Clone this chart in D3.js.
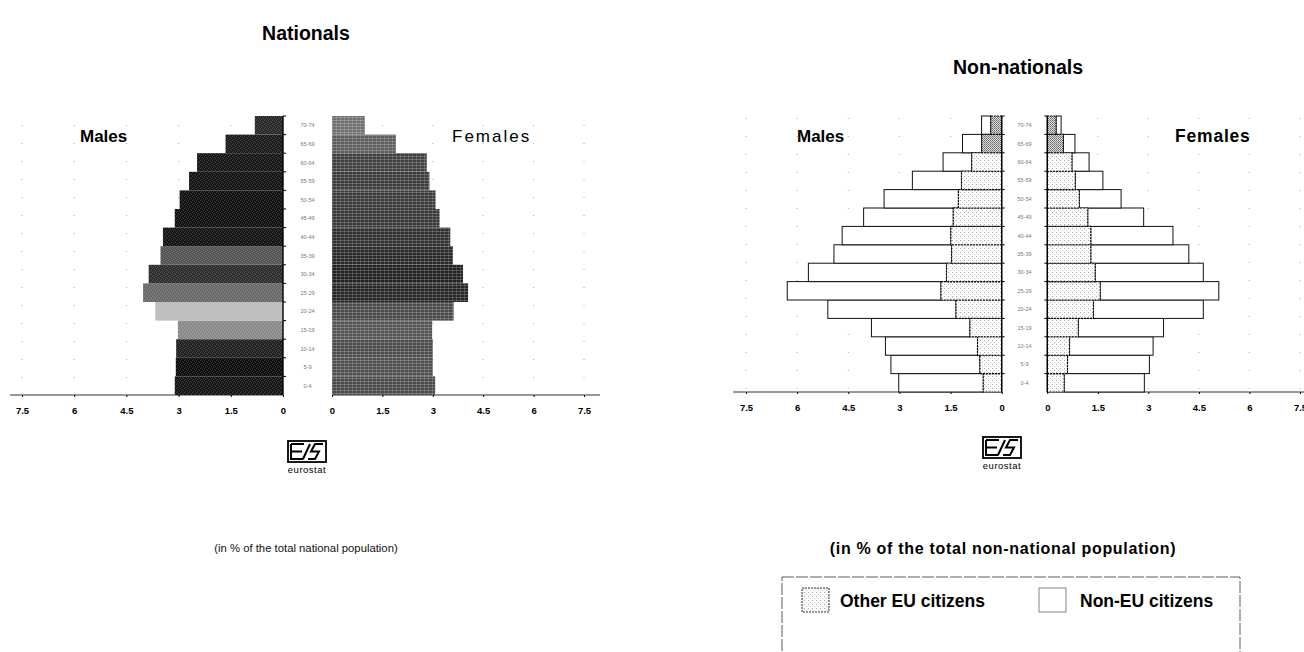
<!DOCTYPE html>
<html><head><meta charset="utf-8">
<script src="https://cdn.jsdelivr.net/npm/d3@7"></script>
<style>
html,body{margin:0;padding:0;background:#fff;}
svg{display:block;font-family:"Liberation Sans",Arial,sans-serif;}
</style></head>
<body>
<svg id="c" width="1304" height="652"></svg>
<script>
// ---------- data (age groups bottom -> top) ----------
const ages = ["0-4","5-9","10-14","15-19","20-24","25-29","30-34","35-39","40-44","45-49","50-54","55-59","60-64","65-69","70-74"];
const tickValues = [0, 1.5, 3, 4.5, 6, 7.5];
const tickLabels = ["0", "1.5", "3", "4.5", "6", "7.5"];
// Nationals (% of total national population)
const natMales   = [3.11, 3.08, 3.07, 3.02, 3.67, 4.02, 3.86, 3.52, 3.45, 3.11, 2.97, 2.70, 2.47, 1.65, 0.81];
const natFemales = [3.07, 3.00, 3.00, 2.98, 3.62, 4.05, 3.90, 3.60, 3.52, 3.20, 3.08, 2.90, 2.82, 1.90, 0.98];
// Non-nationals (% of total non-national population)
const nnMalesEU      = [0.54, 0.64, 0.71, 0.93, 1.34, 1.78, 1.62, 1.47, 1.49, 1.42, 1.27, 1.18, 0.88, 0.59, 0.32];
const nnMalesNonEU   = [2.48, 2.61, 2.70, 2.89, 3.76, 4.51, 4.05, 3.45, 3.19, 2.63, 2.18, 1.44, 0.84, 0.56, 0.27];
const nnFemalesEU    = [0.50, 0.60, 0.66, 0.92, 1.37, 1.57, 1.42, 1.29, 1.29, 1.20, 0.95, 0.83, 0.73, 0.48, 0.26];
const nnFemalesNonEU = [2.38, 2.43, 2.48, 2.53, 3.26, 3.52, 3.21, 2.91, 2.44, 1.66, 1.24, 0.82, 0.51, 0.34, 0.15];
const legendLabels = ["Other EU citizens", "Non-EU citizens"];

// ---------- styles (separate from data) ----------
const natMaleShade   = ["#161616","#0e0e0e","#222","#8a8a8a","#bcbcbc","#6a6a6a","#2e2e2e","#555","#151515","#121212","#121212","#151515","#181818","#1c1c1c","#2a2a2a"];
const natFemaleShade = ["#4a4a4a","#505050","#4c4c4c","#555","#4a4a4a","#262626","#222","#2a2a2a","#303030","#383838","#3c3c3c","#3c3c3c","#404040","#5e5e5e","#707070"];

const svg = d3.select("#c");
const defs = svg.append("defs");
const st = defs.append("pattern").attr("id","stip").attr("width",4).attr("height",4).attr("patternUnits","userSpaceOnUse");
[[0,0],[2,1],[1,3],[3,2]].forEach(p=>st.append("rect").attr("x",p[0]).attr("y",p[1]).attr("width",1).attr("height",1).attr("fill","#fff").attr("opacity",0.18));
const gp = defs.append("pattern").attr("id","grid").attr("width",4).attr("height",3).attr("patternUnits","userSpaceOnUse");
gp.append("rect").attr("x",0).attr("y",0).attr("width",4).attr("height",1).attr("fill","#fff").attr("opacity",0.22);
gp.append("rect").attr("x",0).attr("y",0).attr("width",1).attr("height",3).attr("fill","#fff").attr("opacity",0.16);
const eu = defs.append("pattern").attr("id","eu").attr("width",4).attr("height",4).attr("patternUnits","userSpaceOnUse");
eu.append("rect").attr("width",4).attr("height",4).attr("fill","#fbfbfb");
eu.append("rect").attr("x",0).attr("y",0).attr("width",1).attr("height",1).attr("fill","#aaa");
eu.append("rect").attr("x",2).attr("y",2).attr("width",1).attr("height",1).attr("fill","#ccc");
const eud = defs.append("pattern").attr("id","eudark").attr("width",2).attr("height",2).attr("patternUnits","userSpaceOnUse");
eud.append("rect").attr("width",2).attr("height",2).attr("fill","#ddd");
eud.append("rect").attr("x",0).attr("y",0).attr("width",1).attr("height",1).attr("fill","#666");
eud.append("rect").attr("x",1).attr("y",1).attr("width",1).attr("height",1).attr("fill","#888");

// ---------- helpers ----------
function drawAxis(x, y0, ext) {
  svg.append("g").selectAll("line").data(tickValues.filter(d=>d>0)).join("line")
    .attr("x1",d=>x(d)).attr("x2",d=>x(d)).attr("y1",ext.top).attr("y2",y0)
    .attr("stroke","#888").attr("stroke-width",1).attr("stroke-dasharray","1,17").attr("opacity",0.7);
  svg.append("line").attr("x1",ext.from).attr("x2",ext.to).attr("y1",y0).attr("y2",y0)
    .attr("stroke","#333").attr("stroke-width",1.2);
  const ax = d3.axisBottom(x).tickValues(tickValues).tickSize(2).tickPadding(10)
    .tickFormat((d,i)=>tickLabels[i]);
  const g = svg.append("g").attr("transform",`translate(0,${y0})`).call(ax);
  g.select(".domain").remove();
  g.selectAll(".tick line").attr("stroke","#000");
  g.selectAll(".tick text").attr("font-size",9.5).attr("font-weight","bold").attr("fill","#000")
    .attr("font-family","'Liberation Sans',Arial,sans-serif");
}
function centerLine(x0, y, side) {
  const yr = y.range();
  svg.append("line").attr("x1",x0).attr("x2",x0).attr("y1",yr[0]).attr("y2",yr[1]).attr("stroke","#000").attr("stroke-width",1.4);
  svg.append("g").selectAll("line").data(ages).join("line")
    .attr("x1",x0).attr("x2",x0+side*3).attr("y1",d=>y(d)).attr("y2",d=>y(d)).attr("stroke","#000").attr("stroke-width",1);
}
function ageLabels(cx, y) {
  svg.append("g").selectAll("text").data(ages).join("text")
    .attr("x",cx).attr("y",d=>y(d)+y.bandwidth()/2+2).attr("text-anchor","middle")
    .attr("font-size",5.5).attr("fill","#777").text(d=>d);
}
function logo(cx, top) {
  const g = svg.append("g").attr("transform",`translate(${cx-19},${top})`);
  g.append("rect").attr("x",0).attr("y",0).attr("width",38).attr("height",21).attr("fill","#fff").attr("stroke","#000").attr("stroke-width",1.8);
  const p = d3.path();
  p.moveTo(3,3); p.lineTo(16,3); p.moveTo(3,3); p.lineTo(3,18); p.lineTo(15,18);
  p.moveTo(3,10.5); p.lineTo(14,10.5);
  p.moveTo(15,18); p.lineTo(22,3);
  p.moveTo(35,3); p.lineTo(27,3); p.lineTo(23,10.5); p.lineTo(31,10.5); p.lineTo(27,18); p.lineTo(20,18);
  g.append("path").attr("d",p.toString()).attr("fill","none").attr("stroke","#000").attr("stroke-width",2);
  svg.append("text").attr("x",cx).attr("y",top+32).attr("text-anchor","middle").attr("font-size",9.5).attr("letter-spacing",0.5).text("eurostat");
}

// ---------- NATIONALS ----------
const natY = d3.scaleBand().domain(ages.slice().reverse()).range([116,395]).padding(0);
const natMX = d3.scaleLinear().domain([0,7.5]).range([283,22]);
const natFX = d3.scaleLinear().domain([0,7.5]).range([332,584]);
drawAxis(natMX, 395, {from:10,to:283,top:125});
drawAxis(natFX, 395, {from:332,to:600,top:125});
const natMg = svg.append("g");
natMg.selectAll("rect.b").data(natMales).join("rect").attr("class","b")
  .attr("x",d=>natMX(d)).attr("width",d=>natMX(0)-natMX(d))
  .attr("y",(d,i)=>natY(ages[i])).attr("height",natY.bandwidth())
  .attr("fill",(d,i)=>natMaleShade[i]);
natMg.selectAll("rect.o").data(natMales).join("rect").attr("class","o")
  .attr("x",d=>natMX(d)).attr("width",d=>natMX(0)-natMX(d))
  .attr("y",(d,i)=>natY(ages[i])).attr("height",natY.bandwidth())
  .attr("fill","url(#stip)");
const natFg = svg.append("g");
natFg.selectAll("rect.b").data(natFemales).join("rect").attr("class","b")
  .attr("x",natFX(0)).attr("width",d=>natFX(d)-natFX(0))
  .attr("y",(d,i)=>natY(ages[i])).attr("height",natY.bandwidth())
  .attr("fill",(d,i)=>natFemaleShade[i]);
natFg.selectAll("rect.o").data(natFemales).join("rect").attr("class","o")
  .attr("x",natFX(0)).attr("width",d=>natFX(d)-natFX(0))
  .attr("y",(d,i)=>natY(ages[i])).attr("height",natY.bandwidth())
  .attr("fill","url(#grid)");
centerLine(283, natY, 1);
ageLabels(307.5, natY);

svg.append("text").attr("x",306).attr("y",40).attr("text-anchor","middle").attr("font-size",19.5).attr("font-weight","bold").text("Nationals");
svg.append("text").attr("x",80).attr("y",142).attr("font-size",17).attr("font-weight","bold").text("Males");
svg.append("text").attr("x",452).attr("y",142).attr("font-size",17).attr("letter-spacing",2).text("Females");
logo(307, 441);
svg.append("text").attr("x",306).attr("y",552).attr("text-anchor","middle").attr("font-size",11.3).attr("fill","#111").text("(in % of the total national population)");

// ---------- NON-NATIONALS ----------
const nnY = d3.scaleBand().domain(ages.slice().reverse()).range([116,392]).padding(0);
const nnMX = d3.scaleLinear().domain([0,7.5]).range([1001.7,746]);
const nnFX = d3.scaleLinear().domain([0,7.5]).range([1047.3,1300]);
drawAxis(nnMX, 392, {from:733,to:1002,top:118});
drawAxis(nnFX, 392, {from:1047,to:1304,top:118});

function stackRows(euArr, nonArr) {
  return ages.map((a,i)=>({age:a, i, eu:euArr[i], total:euArr[i]+nonArr[i]}));
}
const mRows = stackRows(nnMalesEU, nnMalesNonEU);
const fRows = stackRows(nnFemalesEU, nnFemalesNonEU);
function nnSide(rows, x) {
  const g = svg.append("g");
  g.selectAll("rect.n").data(rows).join("rect").attr("class","n")
    .attr("x",d=>Math.min(x(d.eu),x(d.total))).attr("width",d=>Math.abs(x(d.total)-x(d.eu)))
    .attr("y",d=>nnY(d.age)).attr("height",nnY.bandwidth())
    .attr("fill","#fff").attr("stroke","#111").attr("stroke-width",1);
  g.selectAll("rect.e").data(rows).join("rect").attr("class","e")
    .attr("x",d=>Math.min(x(0),x(d.eu))).attr("width",d=>Math.abs(x(d.eu)-x(0)))
    .attr("y",d=>nnY(d.age)).attr("height",nnY.bandwidth())
    .attr("fill",d=>d.i>=13?"url(#eudark)":"url(#eu)")
    .attr("stroke","#000").attr("stroke-width",1.1).attr("stroke-dasharray","2,1");
}
nnSide(mRows, nnMX);
nnSide(fRows, nnFX);
centerLine(1001.7, nnY, 1);
centerLine(1047.3, nnY, -1);
ageLabels(1024.5, nnY);

svg.append("text").attr("x",1018).attr("y",74).attr("text-anchor","middle").attr("font-size",19.5).attr("font-weight","bold").text("Non-nationals");
svg.append("text").attr("x",797).attr("y",142).attr("font-size",17).attr("font-weight","bold").text("Males");
svg.append("text").attr("x",1175).attr("y",142).attr("font-size",17.5).attr("font-weight","bold").attr("letter-spacing",0.8).text("Females");
logo(1002, 437);
svg.append("text").attr("x",1003).attr("y",554).attr("text-anchor","middle").attr("font-size",16).attr("font-weight","bold").attr("letter-spacing",0.7).text("(in % of the total non-national population)");

// legend
svg.append("rect").attr("x",782).attr("y",577).attr("width",458).attr("height",90)
  .attr("fill","none").attr("stroke","#333").attr("stroke-width",0.8).attr("stroke-dasharray","12,2");
svg.append("rect").attr("x",802).attr("y",588).attr("width",27).attr("height",24)
  .attr("fill","url(#eu)").attr("stroke","#333").attr("stroke-width",1).attr("stroke-dasharray","2,1");
svg.append("text").attr("x",840).attr("y",607).attr("font-size",17.5).attr("font-weight","bold").text(legendLabels[0]);
svg.append("rect").attr("x",1039).attr("y",588).attr("width",27).attr("height",24)
  .attr("fill","#fff").attr("stroke","#666").attr("stroke-width",0.8);
svg.append("text").attr("x",1080).attr("y",607).attr("font-size",17.5).attr("font-weight","bold").text(legendLabels[1]);
</script>
</body></html>
